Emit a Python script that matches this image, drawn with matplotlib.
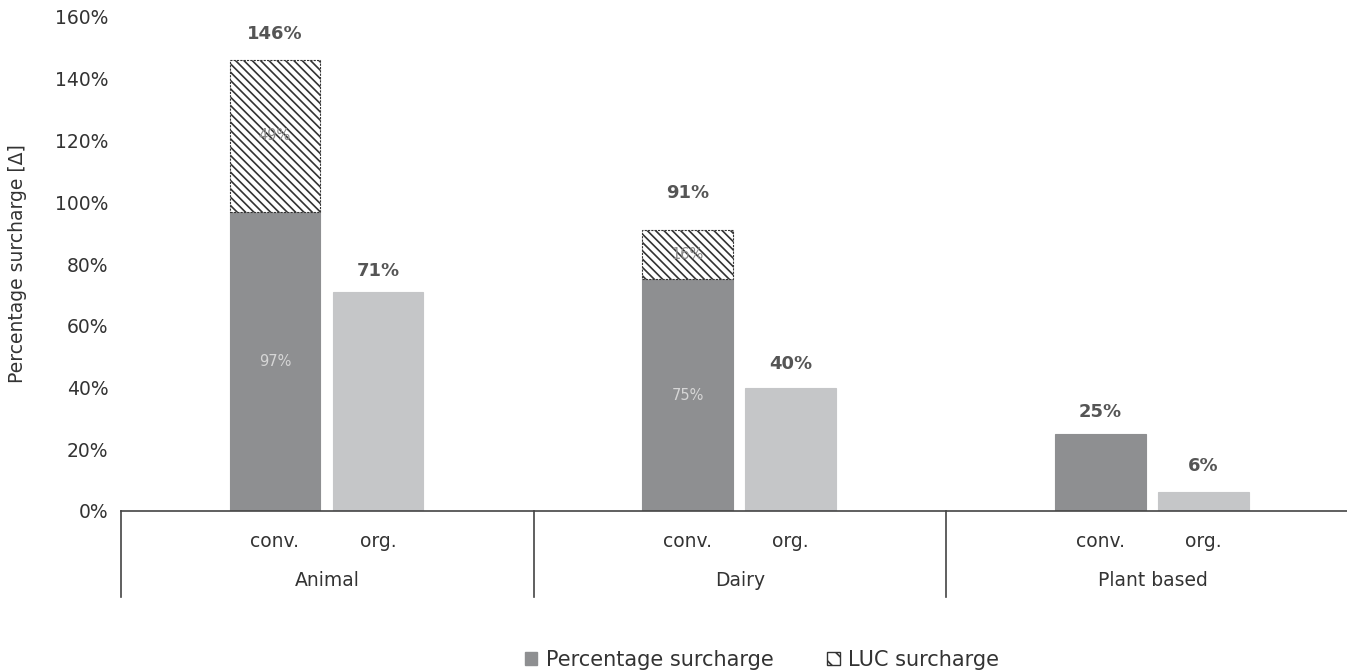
import matplotlib.pyplot as plt
from matplotlib.patches import Patch

plt.rcParams['font.family'] = ['DejaVu Sans']
plt.rcParams['hatch.linewidth'] = 1.2

groups = ["Animal", "Dairy", "Plant based"]
systems = ["conv.", "org."]
conv_base = [97, 75, 25]
conv_luc = [49, 16, 0]
org_vals = [71, 40, 6]
y_ticks = [0, 20, 40, 60, 80, 100, 120, 140, 160]

# label distance above bar tops (points)
conv_lab_off = [19, 27, 16]
org_lab_off = [15, 17, 19]

dark = "#8e8f91"
light = "#c5c6c8"
txt = "#555555"
fs = 13.5

fig = plt.figure(figsize=(13.47, 6.71), dpi=100)
ax = fig.add_axes([121 / 1347, 1 - 511 / 671, 1238 / 1347, 494 / 671])

pos_conv = [g + 0.373 for g in range(3)]
pos_org = [g + 0.623 for g in range(3)]
w = 0.22

ax.bar(pos_conv, conv_base, width=w, color=dark, edgecolor=dark, linewidth=0.8)
luc = ax.bar(pos_conv, conv_luc, width=w, bottom=conv_base, color="white",
             edgecolor="#333333", hatch="\\\\\\\\", linewidth=0.8, linestyle=(0, (2, 1)))
for b, v in zip(luc, conv_luc):
    if v == 0:
        b.set_visible(False)
ax.bar(pos_org, org_vals, width=w, color=light, edgecolor=light, linewidth=0.8)

# totals above bars
for x, b, l, off in zip(pos_conv, conv_base, conv_luc, conv_lab_off):
    ax.annotate(f"{b + l}%", (x, b + l), xytext=(0, off), textcoords="offset points",
                ha="center", va="center", fontsize=13, fontweight="bold", color=txt)
for x, v, off in zip(pos_org, org_vals, org_lab_off):
    ax.annotate(f"{v}%", (x, v), xytext=(0, off), textcoords="offset points",
                ha="center", va="center", fontsize=13, fontweight="bold", color=txt)

# inner labels
for x, b, l in zip(pos_conv, conv_base, conv_luc):
    if l > 0:
        ax.text(x, b / 2, f"{b}%", ha="center", va="center", fontsize=10.5, color="#d6d6d6")
        ax.text(x, b + l / 2, f"{l}%", ha="center", va="center", fontsize=10.5, color="#8a8a8a")

ax.set_xlim(0, 3)
ax.set_ylim(0, 160)
ax.set_yticks(y_ticks)
ax.set_yticklabels([f"{t}%" for t in y_ticks], fontsize=fs, color="#333333")
ax.tick_params(axis="y", length=0, pad=9)
ax.set_xticks(pos_conv + pos_org)
ax.set_xticklabels(systems[:1] * 3 + systems[1:] * 3, fontsize=fs, color="#333333")
ax.tick_params(axis="x", length=0, pad=15)
for s in ["top", "right", "left"]:
    ax.spines[s].set_visible(False)
ax.spines["bottom"].set_color("#444444")
ax.spines["bottom"].set_linewidth(1.2)

trans = ax.get_xaxis_transform()
for g in range(3):
    ax.plot([g, g], [0, -0.174], transform=trans, color="#444444", lw=1.2, clip_on=False)
    ax.text(g + 0.5, -0.14, groups[g], transform=trans, ha="center", va="center",
            fontsize=fs, color="#333333")

ax.set_ylabel("Percentage surcharge [Δ]", fontsize=fs, color="#333333")
ax.yaxis.set_label_coords(-0.076, 0.5)

handles = [Patch(facecolor=dark, edgecolor=dark),
           Patch(facecolor="white", edgecolor="#333333", hatch="\\\\")]
fig.legend(handles, ["Percentage surcharge", "LUC surcharge"], loc="center",
           bbox_to_anchor=(762 / 1347, 1 - 660 / 671), ncol=2, frameon=False,
           fontsize=15, handlelength=0.6, handleheight=0.6, handletextpad=0.4,
           columnspacing=2.6, labelcolor="#333333")

fig.savefig("out.png", dpi=100)
